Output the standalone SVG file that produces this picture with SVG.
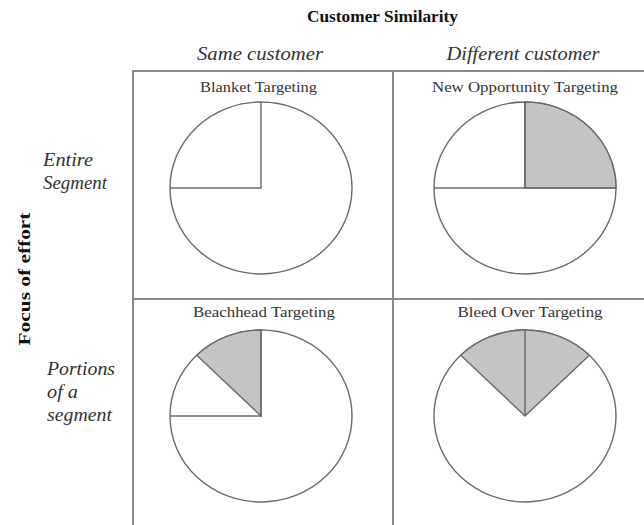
<svg xmlns="http://www.w3.org/2000/svg" width="644" height="525" viewBox="0 0 644 525">
<style>
.grid{stroke:#8a8a8a;stroke-width:2;fill:none}
.pie{stroke:#6a6a6a;stroke-width:1.4;fill:#fff}
.sh{stroke:#6a6a6a;stroke-width:1.4;fill:#c4c4c4}
.ln{stroke:#6a6a6a;stroke-width:1.4;fill:none}
.hd{font-family:"Liberation Serif",serif;font-weight:bold;font-size:16.5px;fill:#111}
.it{font-family:"Liberation Serif",serif;font-style:italic;font-size:18px;fill:#333}
.qt{font-family:"Liberation Serif",serif;font-size:14.5px;fill:#333;text-anchor:middle}
</style>
<rect width="644" height="525" fill="#fff"/>
<g id="labels">
<text class="hd" x="382.5" y="22" text-anchor="middle" textLength="151" lengthAdjust="spacingAndGlyphs">Customer Similarity</text>
<text class="it" x="260" y="60" text-anchor="middle" textLength="126" lengthAdjust="spacingAndGlyphs">Same customer</text>
<text class="it" x="523" y="60" text-anchor="middle" textLength="153" lengthAdjust="spacingAndGlyphs">Different customer</text>
<text class="it" x="43" y="166" textLength="50" lengthAdjust="spacingAndGlyphs">Entire</text>
<text class="it" x="43" y="189" textLength="64" lengthAdjust="spacingAndGlyphs">Segment</text>
<text class="it" x="47" y="375" textLength="68" lengthAdjust="spacingAndGlyphs">Portions</text>
<text class="it" x="47" y="398" textLength="31" lengthAdjust="spacingAndGlyphs">of a</text>
<text class="it" x="47" y="421" textLength="65" lengthAdjust="spacingAndGlyphs">segment</text>
<text class="hd" transform="translate(30,279) rotate(-90)" text-anchor="middle" textLength="133" lengthAdjust="spacingAndGlyphs">Focus of effort</text>
</g>
<g id="connectors">
<path class="grid" d="M133,525 V71 H644 M393,71 V525 M133,299 H644"/>
</g>
<g id="blanket">
<text class="qt" x="258.5" y="92" textLength="117" lengthAdjust="spacingAndGlyphs">Blanket Targeting</text>
<ellipse class="pie" cx="261" cy="188" rx="91" ry="86"/>
<path class="ln" d="M261,102 V188 H170"/>
</g>
<g id="newopp">
<text class="qt" x="525" y="92" textLength="186" lengthAdjust="spacingAndGlyphs">New Opportunity Targeting</text>
<ellipse class="pie" cx="525" cy="188" rx="91" ry="86"/>
<path class="sh" d="M525,188 V102 A91,86 0 0 1 616,188 Z"/>
<path class="ln" d="M525,102 V188 M434,188 H616"/>
</g>
<g id="beachhead">
<text class="qt" x="264" y="317" textLength="142" lengthAdjust="spacingAndGlyphs">Beachhead Targeting</text>
<ellipse class="pie" cx="261" cy="416" rx="91" ry="86"/>
<path class="sh" d="M261,416 L196.7,355.2 A91,86 0 0 1 261,330 Z"/>
<path class="ln" d="M261,330 V416 H170"/>
</g>
<g id="bleedover">
<text class="qt" x="530" y="317" textLength="145" lengthAdjust="spacingAndGlyphs">Bleed Over Targeting</text>
<ellipse class="pie" cx="525" cy="416" rx="91" ry="86"/>
<path class="sh" d="M525,416 L460.7,355.2 A91,86 0 0 1 589.3,355.2 Z"/>
<path class="ln" d="M525,330 V416"/>
</g>
</svg>
